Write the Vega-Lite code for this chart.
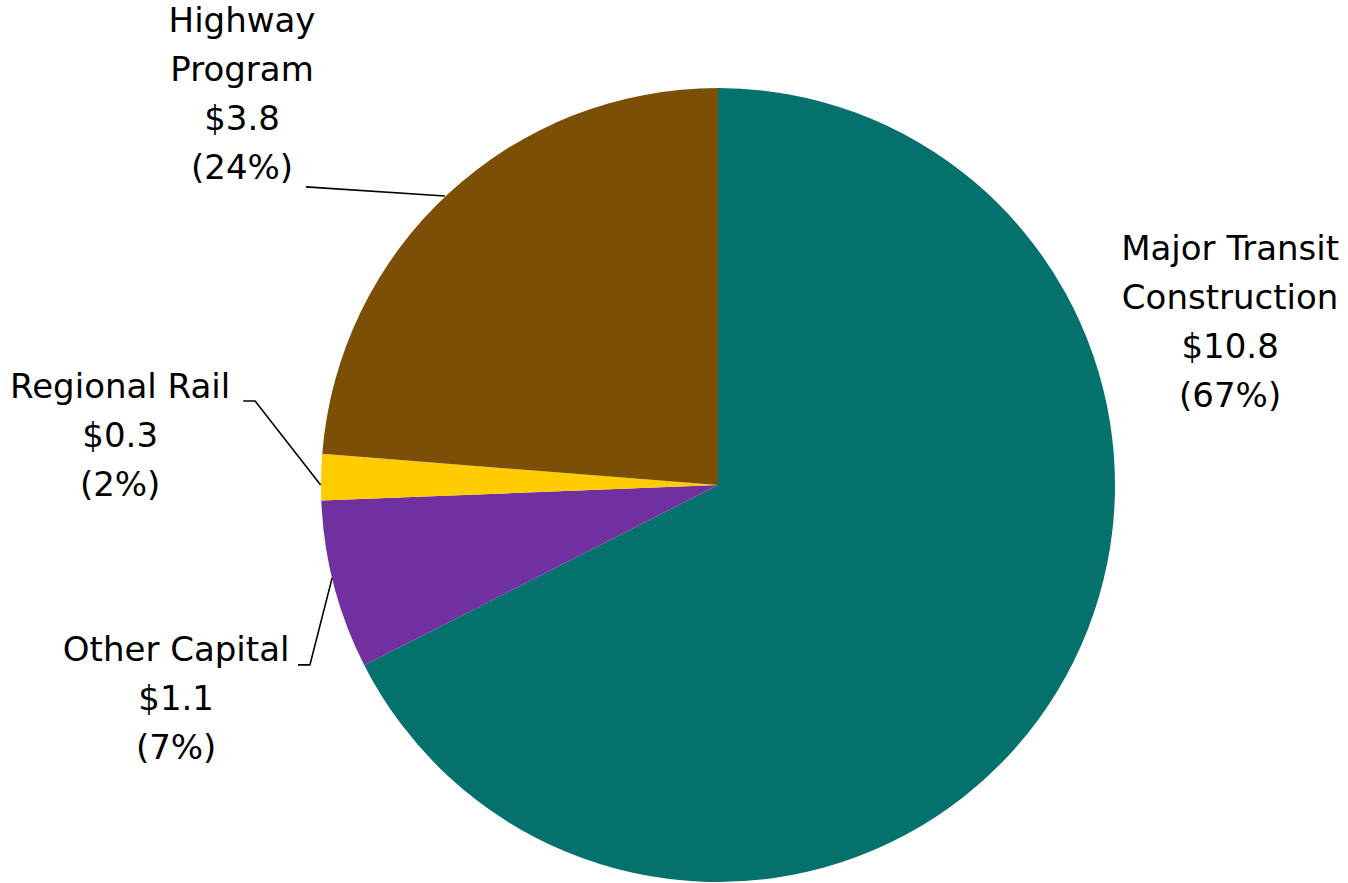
{
  "$schema": "https://vega.github.io/schema/vega-lite/v6.json",
  "width": 1260,
  "height": 796,
  "autosize": {"type": "none"},
  "padding": {"left": 88, "top": 87, "right": 0, "bottom": 0},
  "background": "white",
  "config": {"view": {"stroke": null}},
  "datasets": {
    "slices": [
      {"category": "Major Transit Construction", "value": 10.8, "order": 1},
      {"category": "Other Capital", "value": 1.1, "order": 2},
      {"category": "Regional Rail", "value": 0.3, "order": 3},
      {"category": "Highway Program", "value": 3.8, "order": 4}
    ],
    "labels": [
      {"label": "Highway\nProgram\n$3.8\n(24%)", "lx": -1.199, "ly": 1.166},
      {"label": "Regional Rail\n$0.3\n(2%)", "lx": -1.506, "ly": 0.244},
      {"label": "Other Capital\n$1.1\n(7%)", "lx": -1.365, "ly": -0.418},
      {"label": "Major Transit\nConstruction\n$10.8\n(67%)", "lx": 1.29, "ly": 0.592}
    ],
    "leaders": [
      {"g": "hw", "i": 1, "lx": -1.038, "ly": 0.751},
      {"g": "hw", "i": 2, "lx": -0.688, "ly": 0.728},
      {"g": "rr", "i": 1, "lx": -1.196, "ly": 0.2116},
      {"g": "rr", "i": 2, "lx": -1.166, "ly": 0.2116},
      {"g": "rr", "i": 3, "lx": -1.001, "ly": 0.0},
      {"g": "oc", "i": 1, "lx": -1.058, "ly": -0.453},
      {"g": "oc", "i": 2, "lx": -1.028, "ly": -0.453},
      {"g": "oc", "i": 3, "lx": -0.972, "ly": -0.234}
    ]
  },
  "layer": [
    {
      "data": {"name": "slices"},
      "mark": {"type": "arc", "radius": 397},
      "encoding": {
        "theta": {"field": "value", "type": "quantitative", "stack": true},
        "order": {"field": "order", "type": "quantitative"},
        "color": {
          "field": "category",
          "type": "nominal",
          "scale": {
            "domain": ["Major Transit Construction", "Other Capital", "Regional Rail", "Highway Program"],
            "range": ["#04716C", "#7030A0", "#FFCC00", "#7B5006"]
          },
          "legend": null
        }
      }
    },
    {
      "data": {"name": "leaders"},
      "mark": {"type": "line", "color": "black", "strokeWidth": 1.6},
      "encoding": {
        "x": {"field": "lx", "type": "quantitative", "scale": {"domain": [-1.587, 1.587], "nice": false, "zero": false}, "axis": null},
        "y": {"field": "ly", "type": "quantitative", "scale": {"domain": [-1.0025, 1.0025], "nice": false, "zero": false}, "axis": null},
        "detail": {"field": "g", "type": "nominal"},
        "order": {"field": "i", "type": "quantitative"}
      }
    },
    {
      "data": {"name": "labels"},
      "mark": {"type": "text", "font": "DejaVu Sans", "fontSize": 34, "lineHeight": 49, "lineBreak": "\n", "align": "center", "baseline": "middle", "color": "black"},
      "encoding": {
        "x": {"field": "lx", "type": "quantitative", "axis": null},
        "y": {"field": "ly", "type": "quantitative", "axis": null},
        "text": {"field": "label", "type": "nominal"}
      }
    }
  ]
}
